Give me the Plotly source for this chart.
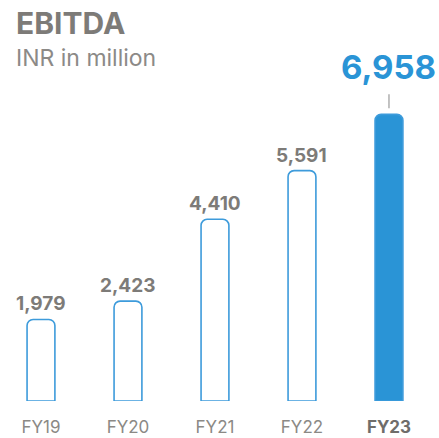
import plotly.graph_objects as go

years = ["FY19", "FY20", "FY21", "FY22", "FY23"]
ebitda = [1979, 2423, 4410, 5591, 6958]
labels = ["1,979", "2,423", "4,410", "5,591", "6,958"]

blue = "#2a94d6"
grey = "#7d7b78"
font = "Inter"

fills = ["white"] * 4 + [blue]
fig = go.Figure(go.Bar(
    x=years, y=ebitda, width=0.32,
    marker=dict(color=fills, line=dict(color="#3d9bdb", width=1.6), cornerradius=6),
    hoverinfo="skip",
))

# value labels, last one highlighted
for i, (yr, v, t) in enumerate(zip(years, ebitda, labels)):
    last = i == len(years) - 1
    fig.add_annotation(
        x=yr, y=v, text="<b>%s</b>" % t, showarrow=False,
        yanchor="bottom", yshift=25 if last else 2,
        font=dict(family=font, size=33 if last else 19, color=blue if last else grey),
    )

fig.add_shape(type="line", xref="x", yref="y", x0=years[-1], x1=years[-1],
              ysizemode="pixel", yanchor=ebitda[-1], y0=6, y1=20,
              line=dict(color="#9a9a9a", width=1.2))

fig.add_annotation(xref="paper", yref="paper", x=0, y=1, xshift=14, yshift=-3,
                   xanchor="left", yanchor="top", showarrow=False,
                   text="<b>EBITDA</b>", font=dict(family=font, size=30, color=grey))
fig.add_annotation(xref="paper", yref="paper", x=0, y=1, xshift=14, yshift=-42,
                   xanchor="left", yanchor="top", showarrow=False,
                   text="INR in million", font=dict(family=font, size=23, color="#8c8a87"))

ticktext = years[:-1] + ["<b><span style='color:#6f6d6a'>%s</span></b>" % years[-1]]

fig.update_layout(
    width=439, height=438,
    margin=dict(l=0, r=0, t=0, b=37),
    plot_bgcolor="white", paper_bgcolor="white",
    showlegend=False,
    xaxis=dict(range=[-0.471, 4.575], tickvals=years, ticktext=ticktext,
               showgrid=False, zeroline=False, showline=False, ticks="",
               ticklabelstandoff=14,
               tickfont=dict(family=font, size=17, color="#8b8985")),
    yaxis=dict(range=[0, 9733], visible=False, showgrid=False, zeroline=False),
)

fig.write_html("out.html", config={"displayModeBar": False},
               post_script="document.body.style.margin='0';")
